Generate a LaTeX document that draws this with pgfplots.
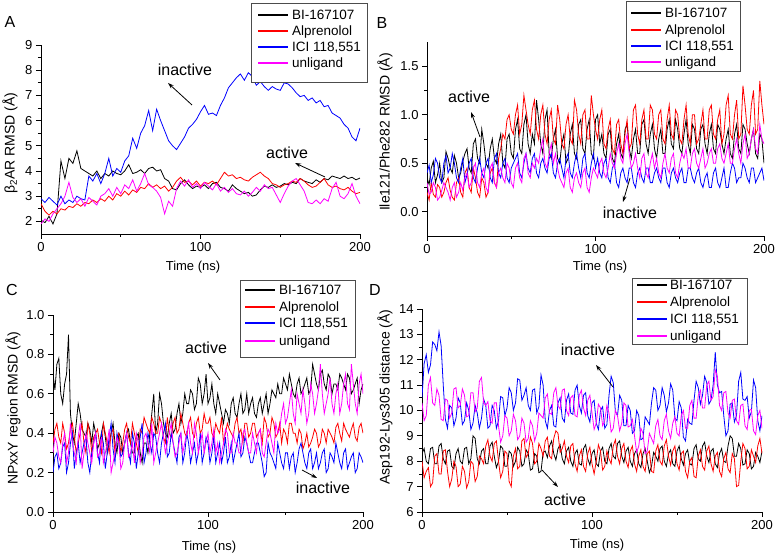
\documentclass[border=0pt]{standalone}
\usepackage{fontspec}
\setmainfont{Liberation Sans}
\usepackage{pgfplots}
\usepackage{pgfplotstable}
\pgfplotsset{compat=1.18}
\usetikzlibrary{arrows.meta}
\definecolor{cred}{RGB}{255,0,0}
\definecolor{cblue}{RGB}{0,0,255}
\definecolor{cmag}{RGB}{255,0,255}

\pgfplotstableread{
t bi alp ici unl
0 2.05 2.7 2.9 1.9
2.5 1.95 2.4 2.75 2.1
5 2.2 2.25 2.95 2.0
7.5 1.9 2.4 2.8 2.3
10 2.3 2.3 2.65 2.5
12.5 4.4 2.5 3.0 2.7
15 3.7 2.45 2.7 3.0
17.5 4.5 2.6 2.85 3.55
20 4.3 2.55 2.75 2.95
22.5 4.8 2.7 3.0 2.75
25 4.1 2.6 2.9 2.9
27.5 4.0 2.75 2.85 2.6
30 3.9 2.7 3.8 2.95
32.5 3.8 2.85 3.6 2.8
35 4.0 2.75 3.9 2.65
37.5 3.7 2.9 3.5 3.0
40 3.9 2.8 3.9 3.1
42.5 3.8 3.0 4.5 3.3
45 4.0 2.85 3.8 3.0
47.5 3.9 3.1 4.1 3.35
50 3.85 3.0 3.95 3.1
52.5 4.0 3.2 4.4 3.45
55 4.25 3.05 4.6 3.3
57.5 3.9 3.25 5.3 3.65
60 3.95 3.15 4.9 3.2
62.5 4.05 3.35 5.5 3.5
65 3.9 3.3 5.8 3.9
67.5 4.1 3.5 6.4 3.45
70 4.15 3.35 5.6 3.35
72.5 4.0 3.45 6.45 3.2
75 4.05 3.3 6.0 2.95
77.5 3.7 3.4 5.6 2.3
80 3.6 3.2 5.2 2.8
82.5 3.3 3.35 5.0 2.6
85 3.25 3.6 4.85 3.3
87.5 3.5 3.75 5.1 3.6
90 3.65 3.55 5.35 3.4
92.5 3.45 3.6 5.7 3.65
95 3.3 3.45 5.85 3.35
97.5 3.4 3.6 6.05 3.5
100 3.35 3.4 6.35 3.3
102.5 3.45 3.55 6.6 3.55
105 3.3 3.5 6.25 3.4
107.5 3.5 3.6 6.3 3.25
110 3.55 3.45 6.2 3.5
112.5 3.35 3.7 6.6 3.2
115 3.3 3.95 6.9 3.35
117.5 3.2 3.8 7.3 3.15
120 3.45 3.85 7.5 3.3
122.5 3.3 3.7 7.7 3.1
125 3.2 3.75 7.85 3.05
127.5 3.1 3.65 7.6 3.2
130 3.15 3.6 7.9 3.0
132.5 3.0 3.75 7.75 3.15
135 3.05 3.85 7.4 3.35
137.5 3.25 3.95 7.55 3.2
140 3.4 3.8 7.35 3.45
142.5 3.35 3.7 7.2 3.3
145 3.45 3.5 7.35 3.35
147.5 3.35 3.45 7.25 3.05
150 3.4 3.35 7.2 2.75
152.5 3.5 3.45 7.5 3.1
155 3.45 3.5 7.45 3.4
157.5 3.55 3.6 7.3 3.6
160 3.5 3.55 7.1 3.7
162.5 3.7 3.7 6.95 3.45
165 3.6 3.6 7.0 3.2
167.5 3.55 3.45 6.8 2.75
170 3.5 3.35 6.9 2.7
172.5 3.65 3.4 6.7 2.85
175 3.55 3.55 6.8 2.7
177.5 3.7 3.7 6.55 2.9
180 3.65 3.45 6.6 2.8
182.5 3.8 3.35 6.3 3.3
185 3.75 3.4 6.2 3.55
187.5 3.7 3.3 6.1 3.0
190 3.8 3.25 5.85 2.9
192.5 3.7 3.35 5.7 3.1
195 3.75 3.2 5.35 3.5
197.5 3.65 3.1 5.2 3.0
200 3.72 3.15 5.7 2.7
}\tabA

\pgfplotstableread{
t bi alp ici unl
0 0.35 0.2 0.4 0.3
1.25 0.28 0.12 0.48 0.18
2.5 0.45 0.3 0.3 0.2
3.75 0.52 0.18 0.38 0.3
5 0.3 0.15 0.55 0.25
6.25 0.38 0.28 0.5 0.12
7.5 0.5 0.25 0.35 0.15
8.75 0.3 0.15 0.3 0.22
10 0.35 0.2 0.5 0.3
11.25 0.62 0.3 0.58 0.25
12.5 0.55 0.35 0.4 0.2
13.75 0.45 0.22 0.45 0.12
15 0.4 0.15 0.6 0.25
16.25 0.58 0.12 0.5 0.3
17.5 0.5 0.3 0.35 0.15
18.75 0.35 0.35 0.3 0.2
20 0.4 0.2 0.45 0.3
21.25 0.52 0.15 0.55 0.22
22.5 0.6 0.4 0.3 0.35
23.75 0.65 0.45 0.38 0.4
25 0.45 0.25 0.5 0.25
26.25 0.4 0.2 0.55 0.3
27.5 0.7 0.45 0.35 0.45
28.75 0.75 0.35 0.3 0.5
30 0.55 0.2 0.45 0.3
31.25 0.5 0.15 0.55 0.25
32.5 0.85 0.35 0.4 0.4
33.75 0.7 0.3 0.35 0.45
35 0.5 0.15 0.5 0.25
36.25 0.45 0.2 0.55 0.2
37.5 0.65 0.4 0.35 0.45
38.75 0.75 0.45 0.3 0.5
40 0.55 0.3 0.55 0.3
41.25 0.5 0.25 0.6 0.25
42.5 0.7 0.55 0.4 0.4
43.75 0.8 0.65 0.35 0.45
45 0.5 0.8 0.5 0.35
46.25 0.45 0.75 0.55 0.3
47.5 0.75 0.95 0.35 0.5
48.75 0.8 1.0 0.3 0.45
50 0.6 0.85 0.45 0.3
51.25 0.55 0.8 0.5 0.25
52.5 0.85 1.0 0.55 0.45
53.75 0.95 1.1 0.6 0.5
55 0.65 0.8 0.4 0.35
56.25 0.6 0.9 0.35 0.3
57.5 0.9 1.2 0.5 0.55
58.75 1.0 1.05 0.6 0.6
60 0.7 0.9 0.45 0.4
61.25 0.6 0.8 0.4 0.35
62.5 0.8 1.05 0.55 0.5
63.75 0.7 1.15 0.6 0.45
65 1.15 0.85 0.4 0.55
66.25 0.95 0.75 0.35 0.5
67.5 0.7 1.0 0.5 0.65
68.75 0.6 1.1 0.55 0.75
70 0.95 0.8 0.45 0.5
71.25 1.05 0.7 0.4 0.45
72.5 0.6 0.95 0.55 0.6
73.75 0.55 1.05 0.6 0.7
75 0.75 0.75 0.4 0.5
76.25 0.85 0.7 0.35 0.6
77.5 0.55 1.1 0.5 0.45
78.75 0.5 0.95 0.55 0.35
80 0.7 0.7 0.45 0.3
81.25 0.8 0.65 0.35 0.25
82.5 0.5 0.9 0.55 0.4
83.75 0.55 1.0 0.6 0.45
85 0.8 0.75 0.4 0.25
86.25 0.9 0.7 0.35 0.2
87.5 0.6 1.15 0.5 0.35
88.75 0.55 1.05 0.6 0.4
90 0.9 0.8 0.45 0.3
91.25 0.95 0.7 0.35 0.25
92.5 0.65 1.0 0.55 0.4
93.75 0.6 1.05 0.6 0.45
95 0.85 0.75 0.4 0.25
96.25 0.95 0.75 0.35 0.2
97.5 0.6 1.2 0.5 0.35
98.75 0.55 1.0 0.6 0.45
100 0.95 0.85 0.45 0.4
101.25 1.0 0.75 0.55 0.35
102.5 0.7 0.95 0.4 0.5
103.75 0.8 1.05 0.35 0.55
105 0.6 0.7 0.5 0.4
106.25 0.55 0.65 0.55 0.35
107.5 0.8 0.85 0.35 0.45
108.75 0.85 0.95 0.3 0.6
110 0.55 0.65 0.45 0.5
111.25 0.5 0.6 0.5 0.45
112.5 0.7 0.9 0.3 0.6
113.75 0.8 0.95 0.25 0.7
115 0.6 0.7 0.4 0.55
116.25 0.55 0.6 0.45 0.5
117.5 0.85 0.8 0.35 0.7
118.75 0.9 0.95 0.3 0.8
120 0.65 0.65 0.45 0.6
121.25 0.55 0.7 0.45 0.45
122.5 0.75 1.05 0.3 0.5
123.75 0.85 1.1 0.25 0.6
125 0.6 0.8 0.4 0.45
126.25 0.6 0.7 0.45 0.35
127.5 0.9 0.95 0.35 0.55
128.75 0.95 1.05 0.3 0.6
130 0.7 0.75 0.45 0.4
131.25 0.6 0.75 0.45 0.35
132.5 0.8 1.1 0.3 0.5
133.75 0.9 1.05 0.3 0.6
135 0.65 0.8 0.4 0.45
136.25 0.55 0.75 0.45 0.55
137.5 0.75 1.0 0.35 0.4
138.75 0.85 1.05 0.3 0.35
140 0.6 0.75 0.45 0.5
141.25 0.6 0.7 0.45 0.6
142.5 0.85 0.95 0.3 0.45
143.75 0.95 1.1 0.25 0.4
145 0.7 0.8 0.4 0.55
146.25 0.65 0.75 0.45 0.6
147.5 0.95 1.05 0.35 0.4
148.75 0.85 1.0 0.3 0.35
150 0.65 0.75 0.4 0.5
151.25 0.6 0.7 0.45 0.6
152.5 0.8 0.95 0.3 0.55
153.75 0.95 1.1 0.3 0.65
155 0.7 0.8 0.45 0.45
156.25 0.6 0.7 0.45 0.45
157.5 0.9 1.0 0.35 0.6
158.75 0.85 1.0 0.3 0.65
160 0.65 0.7 0.4 0.5
161.25 0.6 0.75 0.45 0.45
162.5 0.85 0.9 0.3 0.55
163.75 0.9 1.05 0.25 0.65
165 0.7 0.75 0.35 0.45
166.25 0.6 0.75 0.4 0.5
167.5 0.8 1.05 0.25 0.6
168.75 0.9 1.1 0.25 0.65
170 0.65 0.8 0.4 0.5
171.25 0.6 0.75 0.45 0.5
172.5 0.9 0.95 0.3 0.65
173.75 0.85 1.05 0.25 0.7
175 0.7 0.7 0.35 0.55
176.25 0.6 0.8 0.45 0.5
177.5 0.75 1.1 0.25 0.6
178.75 0.85 1.2 0.25 0.7
180 0.6 0.8 0.4 0.5
181.25 0.55 0.75 0.5 0.5
182.5 0.8 1.0 0.45 0.65
183.75 0.9 1.15 0.3 0.75
185 0.65 0.75 0.35 0.6
186.25 0.6 0.8 0.35 0.5
187.5 0.9 1.3 0.5 0.7
188.75 0.85 1.1 0.45 0.8
190 0.7 0.85 0.35 0.55
191.25 0.6 0.8 0.3 0.6
192.5 0.75 1.1 0.45 0.75
193.75 0.85 1.25 0.45 0.85
195 0.6 0.8 0.3 0.65
196.25 0.55 0.85 0.35 0.6
197.5 0.8 1.35 0.4 0.9
198.75 0.75 1.1 0.45 0.75
200 0.5 0.9 0.32 0.7
}\tabB

\pgfplotstableread{
t bi alp ici unl
0 0.7 0.35 0.2 0.3
1.25 0.62 0.42 0.28 0.38
2.5 0.75 0.45 0.3 0.35
3.75 0.78 0.38 0.22 0.28
5 0.6 0.35 0.25 0.25
6.25 0.55 0.45 0.33 0.35
7.5 0.65 0.4 0.35 0.4
8.75 0.7 0.32 0.2 0.25
10 0.9 0.35 0.25 0.3
11.25 0.5 0.42 0.35 0.45
12.5 0.4 0.45 0.4 0.35
13.75 0.35 0.38 0.22 0.3
15 0.45 0.3 0.3 0.25
16.25 0.55 0.35 0.35 0.38
17.5 0.5 0.4 0.25 0.45
18.75 0.42 0.45 0.3 0.22
20 0.4 0.35 0.35 0.3
21.25 0.38 0.3 0.38 0.4
22.5 0.45 0.45 0.25 0.35
23.75 0.42 0.4 0.2 0.3
25 0.35 0.3 0.3 0.25
26.25 0.45 0.38 0.35 0.35
27.5 0.4 0.4 0.4 0.4
28.75 0.32 0.42 0.3 0.28
30 0.35 0.35 0.25 0.3
31.25 0.4 0.3 0.4 0.38
32.5 0.45 0.45 0.35 0.25
33.75 0.38 0.4 0.22 0.3
35 0.3 0.35 0.3 0.35
36.25 0.35 0.3 0.38 0.42
37.5 0.4 0.4 0.45 0.2
38.75 0.45 0.42 0.32 0.25
40 0.35 0.3 0.25 0.3
41.25 0.3 0.38 0.4 0.38
42.5 0.4 0.4 0.35 0.35
43.75 0.38 0.3 0.28 0.22
45 0.3 0.35 0.3 0.25
46.25 0.35 0.42 0.35 0.35
47.5 0.4 0.45 0.4 0.4
48.75 0.42 0.38 0.3 0.28
50 0.35 0.35 0.25 0.3
51.25 0.3 0.45 0.4 0.35
52.5 0.3 0.4 0.35 0.25
53.75 0.38 0.35 0.22 0.4
55 0.4 0.3 0.3 0.35
56.25 0.3 0.42 0.38 0.25
57.5 0.25 0.4 0.45 0.3
58.75 0.35 0.48 0.25 0.38
60 0.35 0.45 0.3 0.4
61.25 0.3 0.42 0.4 0.35
62.5 0.4 0.4 0.35 0.3
63.75 0.5 0.48 0.3 0.45
65 0.6 0.45 0.4 0.25
66.25 0.4 0.4 0.38 0.3
67.5 0.45 0.4 0.3 0.35
68.75 0.6 0.48 0.25 0.4
70 0.55 0.45 0.35 0.45
71.25 0.45 0.38 0.4 0.38
72.5 0.4 0.35 0.45 0.3
73.75 0.38 0.48 0.28 0.35
75 0.45 0.4 0.3 0.4
76.25 0.5 0.38 0.4 0.45
77.5 0.4 0.45 0.35 0.35
78.75 0.42 0.48 0.3 0.28
80 0.5 0.4 0.25 0.3
81.25 0.55 0.42 0.38 0.35
82.5 0.45 0.5 0.4 0.4
83.75 0.5 0.45 0.25 0.3
85 0.6 0.4 0.3 0.35
86.25 0.55 0.38 0.4 0.4
87.5 0.55 0.45 0.35 0.45
88.75 0.62 0.48 0.25 0.35
90 0.6 0.4 0.3 0.3
91.25 0.52 0.38 0.35 0.45
92.5 0.55 0.45 0.25 0.4
93.75 0.68 0.48 0.3 0.3
95 0.65 0.4 0.4 0.35
96.25 0.55 0.42 0.25 0.4
97.5 0.6 0.5 0.3 0.3
98.75 0.7 0.45 0.38 0.35
100 0.55 0.45 0.35 0.4
101.25 0.58 0.48 0.25 0.3
102.5 0.65 0.4 0.3 0.35
103.75 0.55 0.38 0.38 0.42
105 0.5 0.45 0.25 0.3
106.25 0.6 0.42 0.3 0.35
107.5 0.55 0.4 0.35 0.25
108.75 0.5 0.48 0.25 0.3
110 0.45 0.35 0.3 0.35
111.25 0.52 0.4 0.38 0.42
112.5 0.5 0.45 0.25 0.4
113.75 0.45 0.42 0.28 0.3
115 0.55 0.4 0.35 0.3
116.25 0.58 0.38 0.25 0.4
117.5 0.5 0.45 0.3 0.35
118.75 0.48 0.48 0.35 0.35
120 0.55 0.4 0.4 0.3
121.25 0.6 0.42 0.28 0.3
122.5 0.5 0.35 0.3 0.4
123.75 0.52 0.45 0.38 0.42
125 0.6 0.45 0.35 0.35
126.25 0.5 0.38 0.3 0.3
127.5 0.55 0.4 0.25 0.3
128.75 0.58 0.45 0.25 0.4
130 0.5 0.45 0.3 0.35
131.25 0.48 0.38 0.35 0.3
132.5 0.55 0.4 0.35 0.4
133.75 0.58 0.42 0.3 0.42
135 0.5 0.35 0.25 0.3
136.25 0.55 0.48 0.18 0.28
137.5 0.6 0.45 0.2 0.35
138.75 0.5 0.38 0.35 0.42
140 0.55 0.4 0.3 0.4
141.25 0.62 0.48 0.28 0.35
142.5 0.6 0.45 0.25 0.3
143.75 0.58 0.38 0.22 0.45
145 0.65 0.4 0.35 0.4
146.25 0.6 0.45 0.3 0.42
147.5 0.6 0.35 0.25 0.5
148.75 0.68 0.42 0.22 0.55
150 0.65 0.4 0.3 0.45
151.25 0.62 0.35 0.3 0.48
152.5 0.7 0.45 0.22 0.55
153.75 0.65 0.45 0.28 0.62
155 0.6 0.4 0.3 0.5
156.25 0.58 0.4 0.2 0.45
157.5 0.65 0.35 0.25 0.6
158.75 0.68 0.42 0.32 0.55
160 0.6 0.4 0.35 0.5
161.25 0.62 0.32 0.3 0.62
162.5 0.65 0.35 0.25 0.55
163.75 0.68 0.4 0.22 0.45
165 0.6 0.33 0.3 0.5
166.25 0.62 0.35 0.32 0.65
167.5 0.75 0.38 0.22 0.6
168.75 0.7 0.42 0.25 0.5
170 0.65 0.4 0.3 0.55
171.25 0.62 0.33 0.22 0.62
172.5 0.7 0.35 0.25 0.75
173.75 0.72 0.42 0.3 0.6
175 0.65 0.4 0.32 0.5
176.25 0.62 0.35 0.2 0.55
177.5 0.7 0.42 0.22 0.6
178.75 0.68 0.4 0.3 0.68
180 0.6 0.38 0.28 0.55
181.25 0.65 0.35 0.25 0.5
182.5 0.65 0.43 0.35 0.6
183.75 0.62 0.45 0.3 0.65
185 0.7 0.4 0.25 0.5
186.25 0.68 0.36 0.22 0.55
187.5 0.65 0.45 0.3 0.65
188.75 0.62 0.42 0.32 0.7
190 0.7 0.4 0.22 0.55
191.25 0.68 0.38 0.25 0.52
192.5 0.6 0.42 0.28 0.75
193.75 0.62 0.45 0.3 0.65
195 0.65 0.38 0.2 0.55
196.25 0.68 0.36 0.22 0.5
197.5 0.55 0.43 0.3 0.65
198.75 0.62 0.45 0.28 0.7
200 0.65 0.4 0.25 0.6
}\tabC

\pgfplotstableread{
t bi alp ici unl
0 8.3 8.0 10.5 10.3
1.25 8.5 7.35 11.85 9.6
2.5 8.0 7.6 12.2 9.8
3.75 7.9 7.75 11.5 11.0
5 8.5 7.0 11.8 11.3
6.25 8.55 7.15 12.7 10.3
7.5 7.9 8.2 12.6 10.2
8.75 7.9 8.3 12.35 10.85
10 8.6 7.5 13.1 10.6
11.25 8.7 7.5 12.55 9.65
12.5 8.1 8.4 11.0 9.6
13.75 7.9 8.45 9.65 10.45
15 8.4 7.6 9.3 10.4
16.25 8.45 7.0 10.2 9.7
17.5 7.8 7.3 10.1 9.9
18.75 7.7 8.0 9.4 10.85
20 8.3 7.8 9.7 10.9
21.25 8.5 7.0 10.5 10.1
22.5 8.0 7.1 10.3 10.2
23.75 7.9 7.8 9.45 10.85
25 8.5 7.6 9.6 10.6
26.25 8.55 6.95 10.3 9.75
27.5 7.9 7.2 10.0 9.8
28.75 8.1 8.0 9.25 10.7
30 9.0 7.9 9.5 10.7
31.25 8.9 7.2 10.2 9.95
32.5 8.1 7.4 9.9 10.1
33.75 7.9 8.2 9.3 11.15
35 8.4 8.1 9.7 11.3
36.25 8.5 7.9 10.45 10.3
37.5 7.9 8.6 10.2 10.2
38.75 7.9 8.85 9.3 10.35
40 8.6 8.2 9.4 9.6
41.25 8.75 8.0 10.2 9.5
42.5 8.2 8.7 10.0 10.3
43.75 7.75 8.8 9.3 10.3
45 8.0 8.0 9.6 9.4
46.25 8.6 7.35 10.55 8.75
47.5 8.5 7.6 10.5 9.0
48.75 7.8 8.4 9.8 9.8
50 7.8 8.3 10.1 9.7
51.25 8.4 7.2 10.9 9.0
52.5 8.3 7.0 10.7 9.2
53.75 7.8 8.2 10.0 9.85
55 8.0 8.5 10.3 9.6
56.25 8.55 7.7 11.25 8.85
57.5 8.4 7.8 11.2 9.0
58.75 7.8 8.8 10.4 9.7
60 7.9 8.9 10.6 9.5
61.25 8.45 8.15 10.9 8.75
62.5 8.3 8.3 10.2 8.9
63.75 7.65 8.95 10.0 9.6
65 7.7 8.7 10.8 9.4
66.25 8.3 7.9 10.85 8.8
67.5 8.2 8.0 9.9 9.1
68.75 7.55 8.7 10.15 9.9
70 7.6 8.5 11.4 9.8
71.25 8.35 8.2 11.0 9.7
72.5 8.4 8.8 9.6 10.5
73.75 8.15 8.95 9.3 10.65
75 8.6 8.2 10.0 9.9
76.25 8.8 8.1 10.2 9.85
77.5 8.3 8.9 9.4 10.7
78.75 8.05 9.2 9.35 10.9
80 8.5 9.1 10.3 10.2
81.25 8.65 8.35 10.5 10.05
82.5 8.1 8.5 9.7 10.8
83.75 7.9 8.8 9.55 10.85
85 8.4 8.2 10.4 10.0
86.25 8.55 7.95 10.65 9.8
87.5 8.0 8.6 9.9 10.5
88.75 7.8 8.7 9.85 10.6
90 8.3 7.9 10.8 9.8
91.25 8.45 7.6 11.0 9.75
92.5 7.9 8.2 10.2 10.6
93.75 7.85 8.45 9.9 10.8
95 8.5 7.8 10.6 10.1
96.25 8.65 7.6 10.7 9.8
97.5 8.1 8.3 9.8 10.4
98.75 7.85 8.55 9.55 10.6
100 8.3 7.9 10.3 9.9
101.25 8.45 7.5 10.4 9.25
102.5 7.9 8.0 9.5 9.5
103.75 7.8 8.65 9.25 10.25
105 8.4 8.4 10.0 10.1
106.25 8.55 7.65 10.15 9.4
107.5 8.0 7.8 9.3 9.6
108.75 7.9 8.4 9.45 10.2
110 8.5 8.1 10.6 9.9
111.25 8.7 7.9 11.35 9.15
112.5 8.2 8.6 11.1 9.3
113.75 8.1 8.85 9.95 10.0
115 8.7 8.2 9.8 9.8
116.25 8.8 7.9 10.6 9.2
117.5 8.2 8.5 10.4 9.5
118.75 7.95 8.7 9.4 10.3
120 8.4 8.0 9.4 10.2
121.25 8.55 7.75 10.2 9.35
122.5 8.0 8.4 10.0 9.4
123.75 7.8 8.6 9.1 9.65
125 8.3 7.9 9.2 9.0
126.25 8.45 7.6 10.0 8.35
127.5 7.9 8.2 9.8 8.6
128.75 7.75 8.45 8.85 9.3
130 8.3 7.8 8.9 9.1
131.25 8.5 7.6 9.75 8.3
132.5 8.0 8.3 9.6 8.4
133.75 7.55 8.4 9.45 9.1
135 7.8 7.6 10.3 8.9
136.25 8.35 7.55 10.9 8.7
137.5 8.2 8.4 10.8 9.4
138.75 8.0 8.65 10.0 9.65
140 8.5 8.0 10.2 9.0
141.25 8.6 7.85 10.9 8.85
142.5 8.0 8.6 10.6 9.6
143.75 7.8 8.85 9.95 9.85
145 8.3 8.2 10.3 9.2
146.25 8.45 7.85 11.05 8.9
147.5 7.9 8.4 10.8 9.5
148.75 7.8 8.6 9.7 9.75
150 8.4 7.9 9.6 9.1
151.25 8.6 7.65 10.35 9.0
152.5 8.1 8.3 10.1 9.8
153.75 7.85 8.4 8.95 10.0
155 8.3 7.6 8.8 9.3
156.25 8.45 7.35 9.65 9.3
157.5 7.9 8.0 9.5 10.2
158.75 7.85 8.15 9.45 10.4
160 8.5 7.4 10.4 9.7
161.25 8.65 7.35 11.15 9.7
162.5 8.1 8.2 10.9 10.6
163.75 8.0 8.45 10.25 10.8
165 8.6 7.8 10.6 10.1
166.25 8.75 7.65 11.35 10.1
167.5 8.2 8.4 11.1 11.0
168.75 7.95 8.6 10.25 11.15
170 8.4 7.9 10.4 10.4
171.25 8.5 7.6 11.0 10.55
172.5 7.9 8.2 12.3 11.6
173.75 7.75 8.35 11.0 11.35
175 8.3 7.6 10.7 10.2
176.25 8.5 7.4 10.75 10.0
177.5 8.0 8.1 9.8 10.7
178.75 7.95 8.35 9.0 10.75
180 8.6 7.7 9.2 9.9
181.25 9.0 7.55 10.25 9.7
182.5 8.9 8.3 10.3 10.4
183.75 8.2 8.1 9.55 10.45
185 8.2 7.0 9.8 9.6
186.25 8.7 7.05 11.15 9.45
187.5 8.5 8.0 11.5 10.2
188.75 7.85 8.7 10.45 10.25
190 7.9 8.5 10.4 9.4
191.25 8.45 7.7 10.55 9.25
192.5 8.3 7.8 9.7 10.0
193.75 7.7 8.45 9.95 10.05
195 7.8 8.2 11.2 9.2
196.25 8.35 7.95 10.9 9.05
197.5 8.2 8.6 9.6 9.8
198.75 7.95 8.9 9.2 10.0
200 8.4 8.3 9.8 9.3
}\tabD

\pgfplotsset{
  every axis/.append style={
    scale only axis,
    axis lines*=left,
    axis line style={-, line width=0.8bp, black},
    xmin=0, xmax=200,
    xtick={0,100,200},
    minor x tick num=1,
    minor y tick num=1,
    tick align=outside,
    major tick length=5bp,
    minor tick length=3bp,
    tick style={line width=0.8bp, black},
    ticklabel style={font=\fontsize{13bp}{15bp}\selectfont},
    /pgf/number format/assume math mode=true,
    every axis plot/.append style={line width=0.8bp},
  },
}

\newcommand{\legfont}{\fontsize{13.5bp}{15.5bp}\selectfont}
% #1 colour, #2 line start x, #3 text x, #4 row y, #5 text
\newcommand{\legrow}[5]{%
  \draw[draw=#1, line width=1.1bp] (#2,#4) -- ++(30,0);
  \node[anchor=base west, inner sep=0pt, font=\legfont] at (#3,#4-4.8) {#5};}

\begin{document}
\begin{tikzpicture}[x=1bp,y=1bp]
\useasboundingbox (0,0) rectangle (779,557);

% Panel A
\begin{axis}[at={(41bp,323bp)}, anchor=south west, width=319bp, height=189bp,
  ymin=1.5, ymax=9, ytick={2,3,4,5,6,7,8,9}]
\addplot[draw=black] table[x=t,y=bi]{\tabA};
\addplot[draw=cred] table[x=t,y=alp]{\tabA};
\addplot[draw=cblue] table[x=t,y=ici]{\tabA};
\addplot[draw=cmag] table[x=t,y=unl]{\tabA};
\end{axis}

% Panel B
\begin{axis}[at={(427bp,321bp)}, anchor=south west, width=337bp, height=194bp,
  ymin=-0.25, ymax=1.75, ytick={0,0.5,1,1.5},
  yticklabel style={/pgf/number format/.cd, fixed, fixed zerofill, precision=1}]
\addplot[draw=black] table[x=t,y=bi]{\tabB};
\addplot[draw=cred] table[x=t,y=alp]{\tabB};
\addplot[draw=cblue] table[x=t,y=ici]{\tabB};
\addplot[draw=cmag] table[x=t,y=unl]{\tabB};
\end{axis}

% Panel C
\begin{axis}[at={(53bp,45bp)}, anchor=south west, width=310bp, height=197bp,
  ymin=0, ymax=1, ytick={0,0.2,0.4,0.6,0.8,1.0},
  yticklabel style={/pgf/number format/.cd, fixed, fixed zerofill, precision=1}]
\addplot[draw=black] table[x=t,y=bi]{\tabC};
\addplot[draw=cred] table[x=t,y=alp]{\tabC};
\addplot[draw=cblue] table[x=t,y=ici]{\tabC};
\addplot[draw=cmag] table[x=t,y=unl]{\tabC};
\end{axis}

% Panel D
\begin{axis}[at={(422bp,45bp)}, anchor=south west, width=340bp, height=203bp,
  ymin=6, ymax=14, ytick={6,7,8,9,10,11,12,13,14}]
\addplot[draw=black] table[x=t,y=bi]{\tabD};
\addplot[draw=cred] table[x=t,y=alp]{\tabD};
\addplot[draw=cblue] table[x=t,y=ici]{\tabD};
\addplot[draw=cmag] table[x=t,y=unl]{\tabD};
\end{axis}

% Legends
\fill[white] (251,475) rectangle (367,554);
\draw[black!70, line width=0.8bp] (251,475) rectangle (367,554);
\legrow{black}{258}{292}{542}{BI-167107}
\legrow{cred}{258}{292}{526}{Alprenolol}
\legrow{cblue}{258}{292}{510}{ICI 118,551}
\legrow{cmag}{258}{292}{494}{unligand}

\fill[white] (626,486) rectangle (740,556);
\draw[black!70, line width=0.8bp] (626,486) rectangle (740,556);
\legrow{black}{631}{665}{544}{BI-167107}
\legrow{cred}{631}{665}{527}{Alprenolol}
\legrow{cblue}{631}{665}{511}{ICI 118,551}
\legrow{cmag}{631}{665}{495}{unligand}

\fill[white] (240,200) rectangle (355,277);
\draw[black!70, line width=0.8bp] (240,200) rectangle (355,277);
\legrow{black}{245}{279}{267}{BI-167107}
\legrow{cred}{245}{279}{250}{Alprenolol}
\legrow{cblue}{245}{279}{234}{ICI 118,551}
\legrow{cmag}{245}{279}{216}{unligand}

\fill[white] (632,213) rectangle (747,279);
\draw[black!70, line width=0.8bp] (632,213) rectangle (747,279);
\legrow{black}{637}{670}{272}{BI-167107}
\legrow{cred}{637}{670}{255}{Alprenolol}
\legrow{cblue}{637}{670}{238}{ICI 118,551}
\legrow{cmag}{637}{670}{221}{unligand}

% Panel letters
\node[font=\fontsize{16bp}{18bp}\selectfont] at (10,535) {A};
\node[font=\fontsize{16bp}{18bp}\selectfont] at (382,534) {B};
\node[font=\fontsize{16bp}{18bp}\selectfont] at (12,267) {C};
\node[font=\fontsize{16bp}{18bp}\selectfont] at (375,267) {D};

% Axis labels
\node[rotate=90, font=\fontsize{14bp}{16bp}\selectfont] at (10,414) {β\textsubscript{2}AR RMSD (Å)};
\node[rotate=90, font=\fontsize{14bp}{16bp}\selectfont] at (385,425) {Ile121/Phe282 RMSD (Å)};
\node[rotate=90, font=\fontsize{14bp}{16bp}\selectfont] at (13,149) {NPxxY region RMSD (Å)};
\node[rotate=90, font=\fontsize{14bp}{16bp}\selectfont] at (385,160) {Asp192-Lys305 distance (Å)};
\node[font=\fontsize{13bp}{15bp}\selectfont] at (193,290) {Time (ns)};
\node[font=\fontsize{13bp}{15bp}\selectfont] at (600,290) {Time (ns)};
\node[font=\fontsize{13bp}{15bp}\selectfont] at (209,10) {Time (ns)};
\node[font=\fontsize{13bp}{15bp}\selectfont] at (597,12) {Time (ns)};

% Annotations
\tikzset{ann/.style={font=\fontsize{16bp}{18bp}\selectfont},
  arr/.style={line width=0.8bp, -{Stealth[length=6bp,width=4bp]}}}
\node[ann] at (185,487) {inactive};
\draw[arr] (192,452) -- (168,474);
\node[ann] at (287,404) {active};
\draw[arr] (325,380) -- (295,394);
\node[ann] at (469,460) {active};
\draw[arr] (480,420) -- (471,445);
\node[ann] at (630,344) {inactive};
\draw[arr] (630,379) -- (623,355);
\node[ann] at (206,209) {active};
\draw[arr] (220,177) -- (208,194);
\node[ann] at (323,69) {inactive};
\draw[arr] (302,87) -- (317,79);
\node[ann] at (588,207) {inactive};
\draw[arr] (613,170) -- (596,192);
\node[ann] at (565,57) {active};
\draw[arr] (542,87) -- (558,70);
\end{tikzpicture}
\end{document}
